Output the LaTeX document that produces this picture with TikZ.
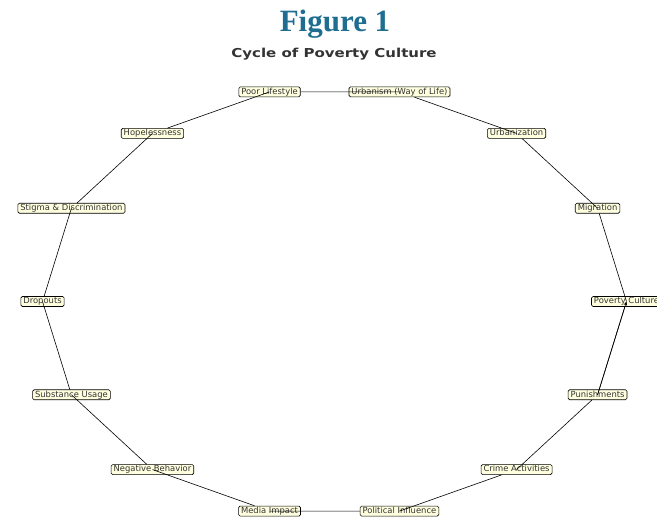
\documentclass[tikz,border=0pt]{standalone}
\usepackage{fontspec}
\setmainfont{DejaVu Sans}
\newfontfamily\titlefont{Liberation Serif}
\usetikzlibrary{arrows.meta}
\definecolor{titleblue}{HTML}{1F6E91}
\definecolor{boxfill}{HTML}{FFFFE0}
\definecolor{labelgray}{HTML}{333333}
\tikzset{
  concept/.style={draw=black, line width=0.6pt, fill=boxfill, rounded corners=1.5pt,
    inner xsep=2.5pt, inner ysep=0.8pt, text height=6.6pt, text depth=1.8pt,
    font=\fontsize{8.4}{9}\selectfont, text=labelgray},
  link/.style={draw=black, line width=0.6pt},
}
\begin{document}
\begin{tikzpicture}[x=1pt,y=-1pt]
\useasboundingbox (0,0) rectangle (657,518);
\node[font=\titlefont\bfseries\fontsize{31}{34}\selectfont, text=titleblue] (title) at (335,24) {Figure 1};
\node[font=\bfseries\fontsize{15}{17}\selectfont, text=labelgray] (subtitle) at (334,54) {\scalebox{1}[0.82]{Cycle of Poverty Culture}};
\def\cx{334.5}\def\cy{301.5}\def\rx{292}\def\ry{215}
\foreach \name/\k/\txt in {pc/0/Poverty Culture, mig/1/Migration, urbz/2/Urbanization, urbm/3/Urbanism (Way of Life), poor/4/Poor Lifestyle, hope/5/Hopelessness, stig/6/Stigma \& Discrimination, drop/7/Dropouts, subs/8/Substance Usage, neg/9/Negative Behavior, media/10/Media Impact, pol/11/Political Influence, crime/12/Crime Activities, pun/13/Punishments}{
  \pgfmathsetmacro\px{\cx+\rx*cos(\k*360/14)}
  \pgfmathsetmacro\py{\cy-\ry*sin(\k*360/14)}
  \node[concept] (\name) at (\px,\py) {\txt};
}
\draw[link] (pc) -- (pun.center);
\draw[link] (pun) -- (crime.center);
\draw[link] (crime) -- (pol.center);
\draw[link] (pol) -- (media.center);
\draw[link] (media) -- (neg.center);
\draw[link] (neg) -- (subs.center);
\draw[link] (subs) -- (drop.center);
\draw[link] (drop) -- (stig.center);
\draw[link] (stig) -- (hope.center);
\draw[link] (hope) -- (poor.center);
\draw[link] (poor) -- (urbm.center);
\draw[link] (urbm) -- (urbz.center);
\draw[link] (urbz) -- (mig.center);
\draw[link] (mig) -- (pc.center);
\draw[link, -{Stealth[length=4pt,width=3.5pt]}] (pun.center) -- (pc.center);
\end{tikzpicture}
\end{document}
